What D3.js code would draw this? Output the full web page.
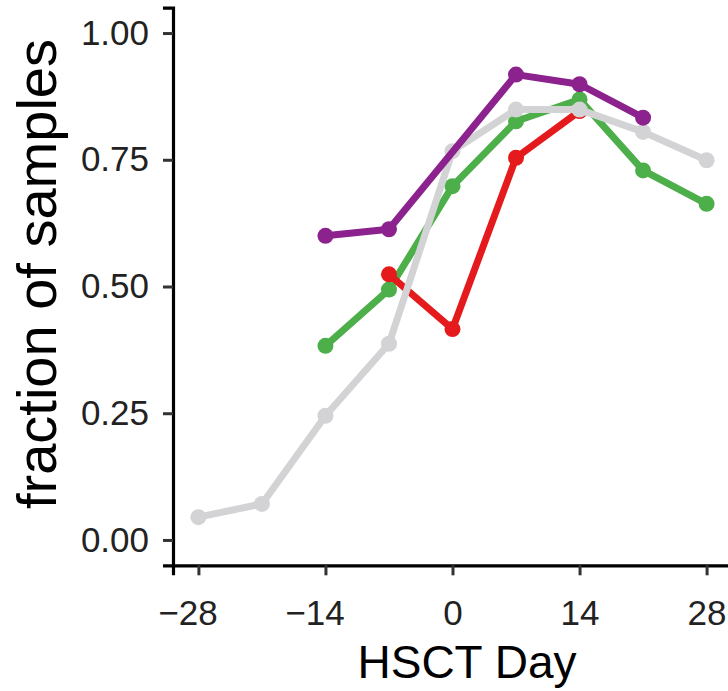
<!DOCTYPE html>
<html>
<head>
<meta charset="utf-8">
<script src="https://cdn.jsdelivr.net/npm/d3@7"></script>
<style>
  html, body { margin: 0; padding: 0; background: #fff; }
  svg { display: block; font-family: "Liberation Sans", Arial, Helvetica, sans-serif; }
</style>
</head>
<body>
<svg id="chart" width="728" height="691"></svg>
<script>
// HSCT day of each sample group
const days = [-28, -21, -14, -7, 0, 7, 14, 21, 28];

// Fraction of samples per group, aligned with days (null = no samples that day)
const greyValues   = [0.045, 0.071, 0.245, 0.387, 0.767, 0.849, 0.849, 0.805, 0.749];
const greenValues  = [null, null, 0.383, 0.494, 0.698, 0.826, 0.869, 0.729, 0.663];
const redValues    = [null, null, null, 0.524, 0.416, 0.754, 0.846, null, null];
const purpleValues = [null, null, 0.600, 0.613, null, 0.918, 0.899, 0.833, null];

const seriesNames  = ["green", "red", "grey", "purple"];
const seriesColors = ["#4DAF4A", "#E41A1C", "#D3D3D5", "#8B228D"];

const xTicks = [-28, -14, 0, 14, 28];
const yTicks = [0, 0.25, 0.5, 0.75, 1];

const valuesByName = { green: greenValues, red: redValues, grey: greyValues, purple: purpleValues };

const svg = d3.select("#chart");
const x = d3.scaleLinear().domain([-30.8, 30.8]).range([173, 732]);
const y = d3.scaleLinear().domain([-0.05, 1.05]).range([565.3, 7.7]);

// Axes
const fmtX = d => (d < 0 ? "\u2212" + Math.abs(d) : String(d));
const xAxis = svg.append("g")
  .attr("transform", `translate(0,${y.range()[0]})`)
  .call(d3.axisBottom(x).tickValues(xTicks).tickFormat(fmtX).tickSize(10).tickPadding(25));
const yAxis = svg.append("g")
  .attr("transform", `translate(${x.range()[0]},0)`)
  .call(d3.axisLeft(y).tickValues(yTicks).tickFormat(d3.format(".2f")).tickSize(10).tickPadding(14));

[xAxis, yAxis].forEach(g => {
  g.select(".domain").attr("stroke", "#000").attr("stroke-width", 3.2);
  g.selectAll(".tick line").attr("stroke", "#333").attr("stroke-width", 3);
  g.selectAll(".tick text").attr("fill", "#222").style("font-size", "35px");
});
// negative day labels sit slightly left of their ticks
xAxis.selectAll(".tick text").attr("dx", d => (d < 0 ? -11 : 0));

// Axis titles
svg.append("text")
  .attr("x", 467).attr("y", 678)
  .attr("text-anchor", "middle")
  .style("font-size", "46px")
  .attr("fill", "#000")
  .text("HSCT Day");
svg.append("text")
  .attr("transform", "translate(56,274) rotate(-90)")
  .attr("text-anchor", "middle")
  .style("font-size", "56px")
  .attr("fill", "#000")
  .text("fraction of samples");

// Lines and points
const line = d3.line()
  .defined(d => d.v !== null)
  .x(d => x(d.day))
  .y(d => y(d.v));

seriesNames.forEach((name, i) => {
  const pts = days.map((day, j) => ({ day, v: valuesByName[name][j] }));
  const present = pts.filter(d => d.v !== null);
  const g = svg.append("g");
  g.append("path")
    .datum(present)
    .attr("fill", "none")
    .attr("stroke", seriesColors[i])
    .attr("stroke-width", 7)
    .attr("stroke-linejoin", "round")
    .attr("d", line);
  g.selectAll("circle")
    .data(present)
    .join("circle")
    .attr("cx", d => x(d.day))
    .attr("cy", d => y(d.v))
    .attr("r", 8)
    .attr("fill", seriesColors[i]);
});
</script>
</body>
</html>
